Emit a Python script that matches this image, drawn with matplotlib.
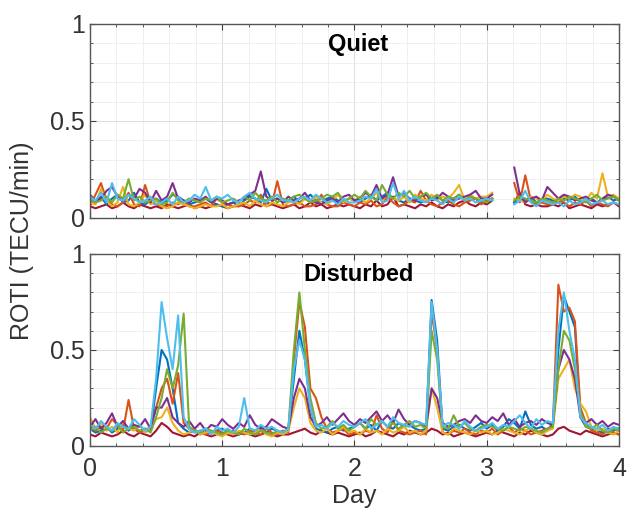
import numpy as np
import matplotlib
matplotlib.use("Agg")
import matplotlib.pyplot as plt

plt.rcParams['font.family'] = ['Liberation Sans', 'DejaVu Sans']

# hourly ROTI samples over 4 days (values in 0.01 TECU/min), None = no data
days = np.linspace(0, 4, 97)

q_blue = [9, 8, 11, 7, 10, 12, 8, 9, 13, 8, 7, 9,
          10, 8, 9, 12, 11, 9, 7, 8, 9, 10, 8, 7,
          6, 7, 8, 6, 9, 11, 10, 8, 15, 9, 10, 8,
          9, 11, 8, 10, 12, 9, 8, 10, 11, 9, 8, 10,
          9, 8, 10, 12, 9, 11, 13, 10, 9, 8, 10, 9,
          8, 9, 10, 11, 9, 8, 10, 12, 9, 11, 10, 8,
          9, 10, None, None, None, 8, 10, 9, 11, 8, 9, 10,
          9, 8, 10, 9, 11, 8, 9, 10, 8, 9, 11, 9,
          10]
q_orange = [6, 12, 18, 9, 7, 6, 8, 13, 7, 6, 17, 8,
            7, 6, 6, 8, 7, 9, 6, 6, 7, 8, 6, 10,
            8, 7, 6, 6, 7, 9, 8, 12, 6, 7, 19, 7,
            6, 7, 8, 6, 6, 7, 12, 7, 6, 6, 8, 7,
            6, 8, 7, 9, 6, 7, 11, 8, 6, 7, 9, 8,
            14, 9, 7, 6, 8, 9, 7, 6, 8, 9, 10, 7,
            9, 10, None, None, None, 18, 8, 22, 9, 7, 8, 7,
            7, 9, 8, 6, 8, 7, 9, 6, 8, 7, 6, 8,
            7]
q_yellow = [8, 7, 15, 9, 6, 8, 16, 7, 6, 8, 12, 7,
            9, 6, 5, 6, 8, 7, 6, 5, 6, 7, 6, 6,
            7, 5, 6, 7, 8, 6, 9, 7, 6, 8, 7, 6,
            8, 9, 7, 10, 8, 11, 8, 7, 9, 12, 8, 10,
            9, 11, 8, 10, 13, 9, 12, 10, 9, 11, 8, 12,
            10, 9, 12, 9, 11, 10, 13, 17, 9, 12, 10, 11,
            11, 13, None, None, None, 10, 9, 8, 11, 10, 9, 12,
            10, 9, 11, 10, 12, 11, 9, 13, 10, 23, 11, 12,
            10]
q_purple = [12, 9, 10, 14, 16, 11, 9, 12, 10, 15, 13, 8,
            14, 9, 11, 18, 10, 9, 8, 10, 9, 11, 8, 10,
            9, 7, 8, 9, 10, 12, 14, 24, 11, 9, 10, 8,
            11, 9, 10, 13, 9, 8, 7, 9, 10, 8, 11, 12,
            9, 10, 13, 11, 17, 10, 12, 21, 11, 13, 10, 9,
            11, 12, 9, 10, 13, 11, 9, 10, 11, 12, 14, 10,
            10, 12, None, None, None, 26, 12, 8, 10, 11, 9, 16,
            13, 10, 12, 11, 9, 10, 11, 9, 8, 10, 12, 11,
            9]
q_green = [10, 8, 9, 11, 8, 12, 10, 20, 9, 11, 8, 9,
           10, 7, 8, 13, 9, 8, 10, 9, 8, 10, 9, 11,
           8, 9, 10, 8, 11, 9, 13, 10, 9, 11, 8, 10,
           9, 11, 12, 10, 8, 9, 10, 12, 11, 13, 9, 10,
           12, 10, 14, 11, 9, 17, 12, 10, 13, 11, 14, 10,
           11, 13, 10, 12, 9, 11, 10, 12, 9, 11, 10, 9,
           8, 10, None, None, None, 9, 11, 10, 9, 8, 10, 9,
           8, 10, 9, 11, 10, 9, 8, 10, 12, 9, 10, 11,
           9]
q_cyan = [11, 9, 13, 8, 18, 10, 9, 12, 10, 8, 9, 11,
          7, 8, 10, 7, 11, 8, 9, 12, 10, 16, 9, 11,
          10, 12, 9, 8, 11, 13, 10, 9, 8, 10, 12, 9,
          9, 8, 10, 11, 9, 12, 10, 8, 9, 7, 10, 8,
          8, 9, 11, 10, 15, 8, 9, 18, 10, 14, 9, 11,
          9, 8, 10, 9, 7, 10, 8, 11, 9, 10, 8, 9,
          10, 9, None, None, None, 7, 9, 14, 8, 6, 9, 8,
          7, 8, 6, 9, 7, 8, 10, 7, 8, 9, 7, 8,
          7]
q_darkred = [6, 5, 6, 7, 5, 6, 8, 6, 5, 7, 6, 5,
             6, 5, 7, 6, 5, 6, 7, 5, 6, 5, 6, 7,
             6, 5, 6, 7, 6, 5, 7, 6, 8, 7, 6, 5,
             6, 7, 5, 6, 8, 6, 7, 5, 6, 7, 6, 7,
             6, 5, 7, 6, 9, 6, 7, 11, 6, 7, 6, 5,
             7, 6, 8, 6, 5, 7, 6, 8, 9, 7, 6, 8,
             7, 9, None, None, None, 8, 13, 7, 6, 7, 6, 6,
             7, 6, 8, 5, 6, 7, 6, 5, 7, 6, 7, 8,
             6]

d_blue = [9, 7, 8, 10, 7, 9, 11, 8, 10, 7, 9, 8,
          30, 50, 45, 30, 12, 9, 7, 8, 6, 9, 7, 8,
          9, 7, 8, 6, 7, 9, 8, 10, 7, 9, 8, 7,
          9, 35, 60, 45, 20, 9, 8, 7, 9, 10, 8, 9,
          10, 12, 9, 11, 8, 13, 10, 9, 12, 10, 11, 9,
          8, 9, 76, 55, 9, 8, 10, 11, 9, 8, 10, 12,
          9, 11, 8, 10, 14, 12, 9, 18, 11, 9, 10, 8,
          12, 50, 78, 70, 62, 15, 10, 9, 8, 7, 9, 8,
          9]
d_orange = [12, 8, 10, 9, 14, 11, 8, 24, 9, 7, 8, 10,
            20, 30, 35, 22, 38, 12, 9, 7, 8, 6, 7, 8,
            7, 6, 8, 7, 6, 8, 7, 6, 9, 7, 6, 8,
            7, 45, 75, 62, 30, 25, 15, 9, 7, 8, 9, 6,
            7, 6, 8, 7, 16, 9, 7, 13, 8, 7, 6, 7,
            8, 6, 70, 50, 7, 6, 8, 7, 9, 7, 6, 8,
            7, 9, 6, 8, 10, 7, 9, 8, 6, 7, 8, 9,
            10, 84, 70, 72, 65, 20, 12, 8, 7, 6, 8, 7,
            6]
d_yellow = [15, 9, 12, 8, 10, 7, 13, 9, 8, 11, 7, 9,
            14, 15, 20, 12, 8, 6, 7, 9, 6, 7, 8, 6,
            5, 7, 6, 8, 7, 6, 7, 9, 6, 5, 7, 6,
            8, 20, 30, 25, 12, 8, 7, 9, 6, 8, 10, 7,
            8, 6, 9, 7, 8, 6, 9, 7, 8, 10, 7, 8,
            6, 8, 30, 20, 7, 6, 9, 8, 7, 6, 8, 7,
            8, 6, 7, 9, 8, 7, 6, 8, 9, 7, 6, 8,
            9, 35, 40, 45, 30, 22, 18, 10, 8, 9, 7, 6,
            8]
d_purple = [10, 14, 9, 12, 17, 10, 13, 9, 11, 10, 14, 9,
            20, 20, 25, 15, 12, 10, 13, 9, 12, 8, 11, 10,
            14, 11, 9, 12, 10, 16, 11, 9, 10, 14, 12, 10,
            9, 25, 35, 30, 15, 10, 12, 15, 11, 14, 17, 13,
            11, 14, 12, 15, 18, 13, 16, 12, 19, 14, 11, 13,
            12, 10, 30, 25, 12, 10, 11, 13, 14, 12, 16, 13,
            12, 15, 13, 17, 11, 14, 10, 12, 13, 11, 14, 12,
            11, 40, 50, 45, 35, 15, 12, 14, 11, 13, 10, 12,
            11]
d_green = [8, 10, 7, 9, 8, 11, 7, 9, 10, 8, 9, 7,
           15, 25, 40, 30, 42, 69, 10, 8, 7, 9, 8, 7,
           6, 8, 7, 6, 9, 7, 6, 8, 7, 6, 8, 7,
           9, 50, 80, 50, 25, 12, 9, 10, 13, 9, 11, 8,
           10, 12, 9, 14, 11, 13, 10, 12, 9, 11, 13, 10,
           11, 9, 60, 45, 10, 9, 16, 10, 12, 9, 8, 10,
           11, 10, 9, 8, 10, 9, 8, 10, 9, 8, 7, 9,
           10, 40, 60, 55, 40, 18, 10, 9, 11, 8, 7, 9,
           8]
d_cyan = [11, 9, 13, 10, 8, 12, 10, 9, 14, 11, 8, 10,
          35, 75, 56, 40, 68, 15, 9, 7, 8, 9, 6, 10,
          8, 9, 7, 10, 25, 9, 8, 11, 9, 10, 8, 7,
          9, 40, 55, 45, 20, 10, 11, 9, 12, 10, 13, 11,
          10, 12, 14, 9, 11, 13, 10, 15, 12, 11, 10, 13,
          12, 11, 75, 50, 10, 12, 11, 9, 13, 10, 8, 9,
          10, 12, 9, 11, 10, 13, 16, 12, 9, 14, 11, 13,
          12, 60, 80, 60, 45, 15, 12, 10, 9, 11, 8, 10,
          9]
d_darkred = [6, 5, 7, 6, 5, 6, 8, 6, 5, 7, 6, 5,
             8, 12, 10, 7, 6, 5, 6, 5, 7, 6, 5, 6,
             7, 6, 5, 6, 7, 6, 5, 6, 7, 6, 5, 6,
             6, 7, 8, 9, 7, 6, 8, 7, 6, 7, 6, 5,
             6, 7, 5, 6, 8, 7, 6, 5, 7, 6, 8, 7,
             6, 7, 9, 8, 6, 7, 5, 6, 7, 6, 5, 6,
             7, 6, 8, 7, 6, 5, 7, 6, 8, 7, 6, 5,
             6, 9, 10, 8, 7, 6, 8, 7, 6, 5, 6, 7,
             6]

# dark red first so it sits underneath the other stations
quiet = [q_darkred, q_blue, q_orange, q_yellow, q_purple, q_green, q_cyan]
disturbed = [d_darkred, d_blue, d_orange, d_yellow, d_purple, d_green, d_cyan]
colors = ['#A2142F', '#0072BD', '#D95319', '#EDB120', '#7E2F8E', '#77AC30', '#4DBEEE']

fig = plt.figure(figsize=(6.27, 5.18), dpi=100)
ax1 = fig.add_axes([0.1435, 0.5792, 0.8437, 0.3745])
ax2 = fig.add_axes([0.1435, 0.139, 0.8437, 0.3707])

for ax, group, title in [(ax1, quiet, 'Quiet'), (ax2, disturbed, 'Disturbed')]:
    for vals, c in zip(group, colors):
        y = np.array(vals, dtype=float) / 100
        ax.plot(days, y, color=c, lw=1.5)
    ax.set_xlim(0, 4)
    ax.set_ylim(0, 1)
    ax.set_xticks([0, 1, 2, 3, 4])
    ax.set_xticks(np.arange(0, 4.01, 0.2), minor=True)
    ax.set_yticks([0, 0.5, 1])
    ax.set_yticklabels(['0', '0.5', '1'])
    ax.set_yticks(np.arange(0, 1.01, 0.1), minor=True)
    ax.grid(which='major', color='#dcdcdc', lw=0.7)
    ax.grid(which='minor', color='#ececec', lw=0.6)
    ax.set_axisbelow(True)
    ax.tick_params(which='both', direction='in', top=True, right=True,
                   colors='#404040', labelsize=18, labelcolor='#333333')
    ax.tick_params(which='major', length=4)
    ax.tick_params(which='minor', length=2.5)
    for s in ax.spines.values():
        s.set_color('#555555')
        s.set_linewidth(1.0)
    ax.text(2.03, 0.895, title, ha='center', va='center', fontsize=17,
            fontweight='bold', color='black')

ax1.tick_params(labelbottom=False)
ax2.tick_params(axis='x', pad=8)
ax2.set_xlabel('Day', fontsize=18, color='#333333', labelpad=2)
fig.text(0.035, 0.535, 'ROTI (TECU/min)', rotation=90, ha='center', va='center',
         fontsize=18, color='#333333')

fig.savefig('out.png', dpi=100)
